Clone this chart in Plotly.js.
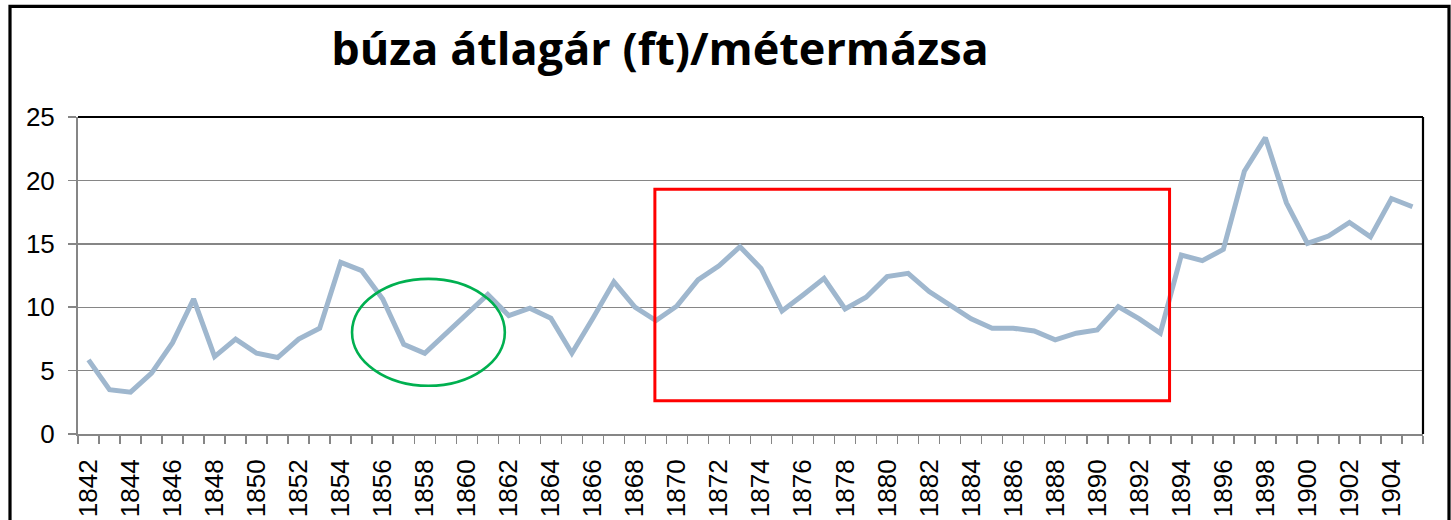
<!DOCTYPE html>
<html>
<head>
<meta charset="utf-8">
<script src="https://cdn.plot.ly/plotly-3.0.1.min.js"></script>
<style>
html,body{margin:0;padding:0;background:#fff;}
#chart{width:1451px;height:520px;}
</style>
</head>
<body>
<div id="chart"></div>
<script>
// ---- data ----
const years = [1842,1843,1844,1845,1846,1847,1848,1849,1850,1851,1852,1853,1854,1855,1856,1857,1858,1859,1860,1861,
  1862,1863,1864,1865,1866,1867,1868,1869,1870,1871,1872,1873,1874,1875,1876,1877,1878,1879,1880,1881,
  1882,1883,1884,1885,1886,1887,1888,1889,1890,1891,1892,1893,1894,1895,1896,1897,1898,1899,1900,1901,
  1902,1903,1904,1905];
const prices = [5.85,3.49,3.3,4.8,7.2,10.65,6.1,7.48,6.37,6.03,7.48,8.34,13.54,12.88,10.65,7.08,6.37,7.95,9.5,11.0,
  9.34,9.92,9.13,6.37,9.13,12.0,10.0,8.95,10.1,12.15,13.27,14.77,13.06,9.7,10.97,12.28,9.86,10.78,12.41,12.67,
  11.23,10.18,9.08,8.34,8.34,8.13,7.42,7.95,8.21,10.05,9.08,7.95,14.11,13.67,14.56,20.72,23.37,18.23,15.03,15.61,
  16.68,15.55,18.57,17.92];
const tickYears = years.filter(y => y % 2 === 0);
const tickLabels = tickYears.map(String);
const yTicks = [0,5,10,15,20,25];
const titleText = 'búza átlagár (ft)/métermázsa';

// highlight regions (data coords)
const boxYears = [1868.95, 1893.44];
const boxValues = [2.62, 19.31];
const ovalYears = [1854.54, 1861.81];
const ovalValues = [3.80, 12.23];

// ---- layout geometry ----
const W = 1451, H = 520;
const M = {l:78, r:28, t:117, b:86};
const pw = W - M.l - M.r, ph = H - M.t - M.b;
const px2paperX = px => (px - M.l) / pw;
const py2paperY = py => (H - M.b - py) / ph;

const grey = '#868686';

const trace = {
  x: years, y: prices, type: 'scatter', mode: 'lines',
  line: {color: '#9FB7CE', width: 5},
  hoverinfo: 'x+y'
};

const layout = {
  width: W, height: H,
  margin: M,
  paper_bgcolor: '#fff', plot_bgcolor: '#fff',
  showlegend: false,
  font: {family: '"Liberation Sans Narrow", "Arial Narrow", sans-serif', color: '#000', size: 25},
  title: {
    text: titleText,
    font: {family: '"Open Sans", Lato, sans-serif', size: 45, weight: 'bold', color: '#000'},
    x: 660 / W, xanchor: 'center', xref: 'container',
    y: 1 - 49 / H, yanchor: 'middle', yref: 'container'
  },
  xaxis: {
    type: 'linear', range: [1841.5, 1905.5], fixedrange: true,
    tickmode: 'array', tickvals: tickYears, ticktext: tickLabels,
    tickangle: -90, ticks: '', ticklen: 0,
    ticklabelstandoff: 13,
    showgrid: false, zeroline: false,
    showline: true, linecolor: grey, linewidth: 2,
    minor: {ticks: 'outside', tick0: 1841.5, dtick: 1, ticklen: 8, tickwidth: 1.5, tickcolor: grey, showgrid: false},
    tickfont: {size: 26}
  },
  yaxis: {
    range: [0, 25], fixedrange: true,
    tickmode: 'array', tickvals: yTicks,
    ticks: 'outside', ticklen: 8, tickwidth: 1.5, tickcolor: grey,
    ticklabelstandoff: 8,
    showgrid: true, gridcolor: grey, gridwidth: 1.4,
    zeroline: false,
    showline: true, linecolor: grey, linewidth: 2,
    tickfont: {size: 26}
  },
  shapes: [
    // plot area top and right border
    {type:'line', xref:'paper', yref:'paper', x0:0, x1:1, y0:1, y1:1, line:{color:'#000', width:2.2}},
    {type:'line', xref:'paper', yref:'paper', x0:1, x1:1, y0:0, y1:1, line:{color:'#000', width:2.2}},
    // red box
    {type:'rect', xref:'x', yref:'y', x0:boxYears[0], x1:boxYears[1], y0:boxValues[0], y1:boxValues[1],
     line:{color:'#FF0000', width:3}, fillcolor:'rgba(0,0,0,0)'},
    // green oval
    {type:'circle', xref:'x', yref:'y', x0:ovalYears[0], x1:ovalYears[1], y0:ovalValues[0], y1:ovalValues[1],
     line:{color:'#00B050', width:2.6}, fillcolor:'rgba(0,0,0,0)'},
    // outer frame
    {type:'rect', xref:'paper', yref:'paper', x0:px2paperX(10), x1:px2paperX(1449), y0:py2paperY(560), y1:py2paperY(6.3),
     line:{color:'#000', width:3.2}, fillcolor:'rgba(0,0,0,0)'}
  ]
};

Plotly.newPlot('chart', [trace], layout, {displayModeBar: false, staticPlot: true});
</script>
</body>
</html>
